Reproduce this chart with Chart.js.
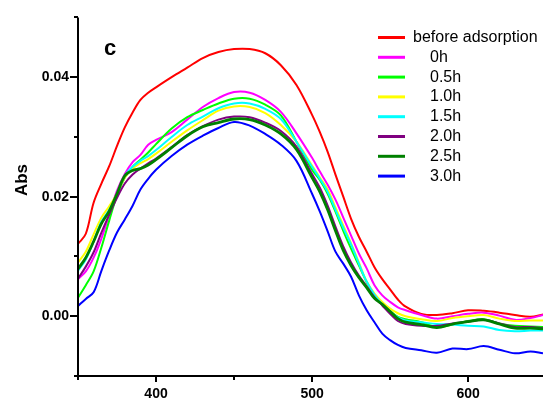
<!DOCTYPE html>
<html>
<head>
<meta charset="utf-8">
<script src="https://cdn.jsdelivr.net/npm/chart.js@4.4.0/dist/chart.umd.min.js"></script>
<style>
  html, body { margin: 0; padding: 0; background: #fff; }
  #wrap { width: 543px; height: 403px; }
</style>
</head>
<body>
<div id="wrap"><canvas id="myChart" width="543" height="403"></canvas></div>
<script>
// wavelength (nm)
const wavelength = [350, 355, 360, 365, 370, 375, 380, 385, 390, 395, 400,
    410, 420, 430, 440, 450, 460, 470, 480, 490,
    500, 505, 510, 515, 520, 525, 530, 535, 540, 545, 550, 555, 560,
    570, 580, 590, 600, 610, 620, 630, 640, 648]

const before = [0.0121, 0.0138, 0.0190, 0.0222, 0.0251, 0.0285, 0.0316, 0.0341, 0.0362, 0.0374, 0.0383,
    0.0400, 0.0416, 0.0432, 0.0442, 0.0447, 0.0447, 0.0440, 0.0420, 0.0387,
    0.0337, 0.0308, 0.0275, 0.0237, 0.0200, 0.0163, 0.0133, 0.0108, 0.0082, 0.0062, 0.0045, 0.0028, 0.0016,
    0.0004, 0.0002, 0.0005, 0.0010, 0.0009, 0.0006, 0.0002, -0.0001, 0.0003]
const h0 = [0.0062, 0.0075, 0.0098, 0.0130, 0.0170, 0.0210, 0.0238, 0.0258, 0.0270, 0.0287, 0.0295,
    0.0308, 0.0329, 0.0350, 0.0365, 0.0375, 0.0374, 0.0362, 0.0342, 0.0306,
    0.0265, 0.0242, 0.0220, 0.0195, 0.0165, 0.0135, 0.0105, 0.0080, 0.0052, 0.0035, 0.0024, 0.0015, 0.0010,
    0.0002, -0.0004, 0.0000, 0.0004, 0.0006, 0.0001, -0.0006, -0.0003, 0.0002]
const h05 = [0.0031, 0.0052, 0.0075, 0.0115, 0.0160, 0.0202, 0.0232, 0.0250, 0.0262, 0.0274, 0.0288,
    0.0314, 0.0333, 0.0345, 0.0356, 0.0364, 0.0364, 0.0354, 0.0336, 0.0292,
    0.0245, 0.0228, 0.0205, 0.0175, 0.0143, 0.0113, 0.0085, 0.0057, 0.0035, 0.0020, 0.0009, -0.0001, -0.0005,
    -0.0010, -0.0018, -0.0014, -0.0008, -0.0005, -0.0012, -0.0016, -0.0017, -0.0018]
const h10 = [0.0090, 0.0108, 0.0137, 0.0165, 0.0184, 0.0205, 0.0232, 0.0247, 0.0256, 0.0263, 0.0272,
    0.0292, 0.0311, 0.0328, 0.0344, 0.0351, 0.0350, 0.0340, 0.0320, 0.0292,
    0.0252, 0.0232, 0.0212, 0.0182, 0.0152, 0.0122, 0.0090, 0.0058, 0.0038, 0.0024, 0.0013, 0.0005, 0.0000,
    -0.0005, -0.0008, -0.0003, 0.0000, 0.0002, -0.0004, -0.0008, -0.0007, -0.0007]
const h15 = [0.0076, 0.0095, 0.0125, 0.0158, 0.0178, 0.0205, 0.0235, 0.0250, 0.0260, 0.0268, 0.0278,
    0.0300, 0.0320, 0.0334, 0.0348, 0.0356, 0.0356, 0.0347, 0.0330, 0.0292,
    0.0250, 0.0230, 0.0208, 0.0178, 0.0148, 0.0120, 0.0088, 0.0058, 0.0036, 0.0020, 0.0008, -0.0002, -0.0007,
    -0.0010, -0.0013, -0.0014, -0.0016, -0.0017, -0.0023, -0.0025, -0.0024, -0.0024]
const h20 = [0.0063, 0.0083, 0.0107, 0.0140, 0.0170, 0.0198, 0.0222, 0.0237, 0.0247, 0.0256, 0.0264,
    0.0283, 0.0303, 0.0318, 0.0329, 0.0334, 0.0333, 0.0324, 0.0310, 0.0284,
    0.0238, 0.0215, 0.0185, 0.0150, 0.0117, 0.0090, 0.0068, 0.0050, 0.0032, 0.0018, 0.0004, -0.0008, -0.0013,
    -0.0016, -0.0016, -0.0012, -0.0009, -0.0006, -0.0012, -0.0018, -0.0018, -0.0020]
const h25 = [0.0079, 0.0098, 0.0125, 0.0155, 0.0176, 0.0205, 0.0235, 0.0244, 0.0247, 0.0253, 0.0262,
    0.0282, 0.0302, 0.0317, 0.0324, 0.0330, 0.0329, 0.0320, 0.0305, 0.0279,
    0.0232, 0.0208, 0.0178, 0.0143, 0.0110, 0.0085, 0.0065, 0.0048, 0.0030, 0.0020, 0.0008, -0.0004, -0.0010,
    -0.0014, -0.0019, -0.0013, -0.0009, -0.0006, -0.0013, -0.0020, -0.0020, -0.0021]
const h30 = [0.0017, 0.0029, 0.0040, 0.0076, 0.0110, 0.0140, 0.0162, 0.0185, 0.0212, 0.0230, 0.0245,
    0.0268, 0.0287, 0.0302, 0.0315, 0.0325, 0.0319, 0.0305, 0.0287, 0.0260,
    0.0205, 0.0175, 0.0142, 0.0108, 0.0088, 0.0066, 0.0035, 0.0010, -0.0010, -0.0029, -0.0040, -0.0048, -0.0053,
    -0.0057, -0.0061, -0.0054, -0.0055, -0.0050, -0.0056, -0.0062, -0.0059, -0.0062]

const seriesNames = ['before adsorption', '0h', '0.5h', '1.0h', '1.5h', '2.0h', '2.5h', '3.0h']
const seriesValues = [before, h0, h05, h10, h15, h20, h25, h30]
const seriesColors = ['#ff0000', '#ff00ff', '#00ff00', '#ffff00', '#00ffff', '#800080', '#008000', '#0000ff']

const xMajorTicks = [400, 500, 600]
const xMinorTicks = [350, 450, 550]
const yMajorTicks = [0, 0.02, 0.04]
const yMinorTicks = [-0.01, 0.01, 0.03, 0.05]

const FONT = "'Liberation Sans', Arial, sans-serif"

const datasets = seriesValues.map((vals, i) => ({
    label: seriesNames[i],
    data: wavelength.map((w, j) => ({x: w, y: vals[j]})),
    borderColor: seriesColors[i],
    borderWidth: i === 6 ? 2.8 : 2,
    pointRadius: 0,
    tension: 0.35,
    fill: false,
    order: seriesValues.length - 1 - i
}))

// axes, ticks, panel letter, y title and legend
const decorations = {
    id: 'decorations',
    afterDraw(chart) {
        const ctx = chart.ctx
        const area = chart.chartArea
        const xs = chart.scales.x
        const ys = chart.scales.y
        ctx.save()
        ctx.strokeStyle = '#000'
        ctx.lineWidth = 2
        ctx.beginPath()
        ctx.moveTo(area.left, area.top)
        ctx.lineTo(area.left, area.bottom)
        ctx.lineTo(area.right, area.bottom)
        ctx.stroke()

        xMajorTicks.forEach(v => {
            const p = Math.round(xs.getPixelForValue(v))
            ctx.beginPath(); ctx.moveTo(p, area.bottom); ctx.lineTo(p, area.bottom + 6); ctx.stroke()
        })
        xMinorTicks.forEach(v => {
            const p = Math.round(xs.getPixelForValue(v))
            ctx.beginPath(); ctx.moveTo(p, area.bottom); ctx.lineTo(p, area.bottom + 4); ctx.stroke()
        })
        yMajorTicks.forEach(v => {
            const p = Math.round(ys.getPixelForValue(v))
            ctx.beginPath(); ctx.moveTo(area.left - 8, p); ctx.lineTo(area.left, p); ctx.stroke()
        })
        yMinorTicks.forEach(v => {
            const p = Math.round(ys.getPixelForValue(v))
            ctx.beginPath(); ctx.moveTo(area.left - 4, p); ctx.lineTo(area.left, p); ctx.stroke()
        })

        ctx.fillStyle = '#000'
        ctx.font = 'bold 22px ' + FONT
        ctx.textAlign = 'left'
        ctx.textBaseline = 'alphabetic'
        ctx.fillText('c', 104, 55)

        ctx.save()
        ctx.translate(27, 180)
        ctx.rotate(-Math.PI / 2)
        ctx.font = 'bold 17px ' + FONT
        ctx.textAlign = 'center'
        ctx.textBaseline = 'alphabetic'
        ctx.fillText('Abs', 0, 0)
        ctx.restore()

        ctx.font = '16px ' + FONT
        ctx.textBaseline = 'middle'
        ctx.textAlign = 'left'
        ctx.lineWidth = 3
        chart.data.datasets.forEach((ds, i) => {
            const y = 37.5 + i * 19.8
            ctx.strokeStyle = ds.borderColor
            ctx.beginPath(); ctx.moveTo(378, y); ctx.lineTo(405, y); ctx.stroke()
            ctx.fillText(ds.label, i === 0 ? 413 : 430, y)
        })
        ctx.restore()
    }
}

const config = {
    type: 'line',
    data: {datasets: datasets},
    options: {
        responsive: false,
        animation: false,
        devicePixelRatio: 1,
        layout: {padding: {top: 15, right: 0, left: 0, bottom: 0}},
        plugins: {legend: {display: false}, tooltip: {enabled: false}},
        scales: {
            x: {
                type: 'linear',
                min: 350,
                max: 648,
                grid: {display: false, drawTicks: false},
                border: {display: false},
                afterBuildTicks: scale => { scale.ticks = xMajorTicks.map(v => ({value: v})) },
                afterFit: scale => { scale.height = 27 },
                ticks: {
                    color: '#000',
                    padding: 10,
                    font: {family: FONT, size: 14, weight: 'bold'},
                    callback: v => String(v)
                }
            },
            y: {
                type: 'linear',
                min: -0.01,
                max: 0.05,
                grid: {display: false, drawTicks: false},
                border: {display: false},
                afterBuildTicks: scale => { scale.ticks = yMajorTicks.map(v => ({value: v})) },
                afterFit: scale => { scale.width = 78 },
                ticks: {
                    color: '#000',
                    padding: 9,
                    font: {family: FONT, size: 14, weight: 'bold'},
                    callback: v => v.toFixed(2)
                }
            }
        }
    },
    plugins: [decorations]
}

const myChart = new Chart(document.getElementById('myChart'), config)
</script>
</body>
</html>
